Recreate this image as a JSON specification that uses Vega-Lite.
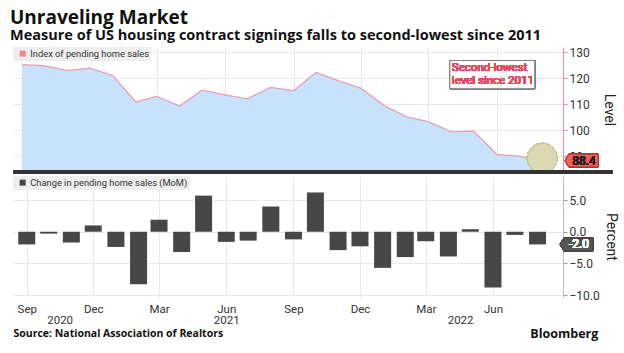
{
  "$schema": "https://vega.github.io/schema/vega-lite/v6.json",
  "padding": {"left": 10, "top": 8, "right": 4, "bottom": 2},
  "background": "white",
  "title": {
    "text": "Unraveling Market",
    "subtitle": "Measure of US housing contract signings falls to second-lowest since 2011",
    "anchor": "start",
    "frame": "group",
    "dx": -3,
    "font": "Open Sans",
    "fontSize": 19,
    "fontWeight": "bold",
    "color": "#111",
    "subtitleFont": "Open Sans",
    "subtitleFontSize": 14.5,
    "subtitleFontWeight": "bold",
    "subtitleColor": "#111",
    "subtitlePadding": 1,
    "offset": 4
  },
  "config": {
    "view": {"stroke": null},
    "font": "Roboto",
    "axis": {"labelFont": "Roboto", "titleFont": "Roboto", "gridColor": "#e9e9e9", "labelColor": "#333", "titleColor": "#222"},
    "legend": {"labelFont": "Roboto"}
  },
  "datasets": {
    "d": [
      {"date": "2020-09-01", "index": 125.2, "change": -2.0},
      {"date": "2020-10-01", "index": 124.8, "change": -0.3},
      {"date": "2020-11-01", "index": 122.9, "change": -1.7},
      {"date": "2020-12-01", "index": 123.9, "change": 1.0},
      {"date": "2021-01-01", "index": 121.0, "change": -2.4},
      {"date": "2021-02-01", "index": 110.9, "change": -8.3},
      {"date": "2021-03-01", "index": 113.0, "change": 1.9},
      {"date": "2021-04-01", "index": 109.3, "change": -3.2},
      {"date": "2021-05-01", "index": 115.4, "change": 5.7},
      {"date": "2021-06-01", "index": 113.6, "change": -1.6},
      {"date": "2021-07-01", "index": 112.1, "change": -1.4},
      {"date": "2021-08-01", "index": 116.5, "change": 4.0},
      {"date": "2021-09-01", "index": 115.2, "change": -1.2},
      {"date": "2021-10-01", "index": 122.2, "change": 6.2},
      {"date": "2021-11-01", "index": 119.0, "change": -2.9},
      {"date": "2021-12-01", "index": 116.1, "change": -2.3},
      {"date": "2022-01-01", "index": 109.4, "change": -5.7},
      {"date": "2022-02-01", "index": 105.1, "change": -4.0},
      {"date": "2022-03-01", "index": 103.3, "change": -1.5},
      {"date": "2022-04-01", "index": 99.4, "change": -3.9},
      {"date": "2022-05-01", "index": 99.7, "change": 0.4},
      {"date": "2022-06-01", "index": 90.7, "change": -8.8},
      {"date": "2022-07-01", "index": 90.1, "change": -0.5},
      {"date": "2022-08-01", "index": 88.4, "change": -2.0}
    ]
  },
  "resolve": {"scale": {"x": "independent", "color": "independent"}, "axis": {"x": "independent"}, "legend": {"color": "independent"}},
  "spacing": -2,
  "vconcat": [
    {
      "width": 550,
      "height": 125,
      "data": {"name": "d"},
      "encoding": {
        "x": {
          "field": "date", "type": "temporal",
          "scale": {"type": "utc", "domain": [{"year": 2020, "month": 8, "date": 20, "utc": true}, {"year": 2022, "month": 8, "date": 29, "utc": true}]},
          "axis": {
            "values": [
              {"year": 2020, "month": 9, "date": 1, "utc": true},
              {"year": 2020, "month": 12, "date": 1, "utc": true},
              {"year": 2021, "month": 3, "date": 1, "utc": true},
              {"year": 2021, "month": 6, "date": 1, "utc": true},
              {"year": 2021, "month": 9, "date": 1, "utc": true},
              {"year": 2021, "month": 12, "date": 1, "utc": true},
              {"year": 2022, "month": 3, "date": 1, "utc": true},
              {"year": 2022, "month": 6, "date": 1, "utc": true}
            ],
            "grid": true, "labels": false, "ticks": false, "domain": false, "title": null,
            "minExtent": 0, "maxExtent": 0, "offset": 0
          }
        },
        "y": {
          "field": "index", "type": "quantitative",
          "scale": {"domain": [84, 132], "zero": false, "nice": false},
          "axis": {
            "orient": "right", "values": [90, 100, 110, 120, 130], "grid": true,
            "domainColor": "#f08a9a", "tickColor": "#f08a9a", "tickSize": 4,
            "labelFontSize": 12, "labelPadding": 2,
            "title": "Level", "titleFontSize": 14, "titleFontWeight": "normal", "titlePadding": 12
          }
        }
      },
      "layer": [
        {"mark": {"type": "area", "color": "#c9e2fb", "clip": true}},
        {"mark": {"type": "line", "color": "#e6a2b4", "strokeWidth": 1.3}},
        {
          "mark": {"type": "square", "size": 0, "filled": true},
          "encoding": {
            "color": {
              "datum": "Index of pending home sales",
              "scale": {"range": ["#f25555"]},
              "legend": {
                "orient": "top-left", "offset": 0, "title": null, "fillColor": "#eeeeee",
                "padding": 2, "symbolType": "square", "symbolSize": 36, "labelFontSize": 9.3,
                "labelColor": "#333", "labelOffset": 3, "symbolOffset": 3, "labelLimit": 400
              }
            }
          }
        },
        {
          "mark": {"type": "circle", "size": 900, "color": "#dcd9b2", "opacity": 0.75, "stroke": "#c9c59c", "strokeWidth": 1},
          "encoding": {
            "x": {"datum": {"year": 2022, "month": 8, "date": 1, "utc": true}},
            "y": {"datum": 89.3}
          }
        },
        {
          "mark": {"type": "rect", "fill": "white", "stroke": "#808080", "strokeWidth": 1},
          "encoding": {
            "x": {"datum": {"year": 2022, "month": 3, "date": 30, "utc": true}},
            "x2": {"datum": {"year": 2022, "month": 7, "date": 22, "utc": true}},
            "y": {"datum": 126.8},
            "y2": {"datum": 116.0}
          }
        },
        {
          "mark": {"type": "text", "text": ["Second-lowest", "level since 2011"], "align": "left", "baseline": "top", "color": "#ec4560", "fontSize": 11.5, "fontWeight": "normal", "lineHeight": 13.5, "dx": 2, "dy": 1},
          "encoding": {
            "x": {"datum": {"year": 2022, "month": 3, "date": 30, "utc": true}},
            "y": {"datum": 126.8}
          }
        },
        {
          "mark": {"type": "point", "shape": "M-1,0L-0.76,-0.38L1,-0.38L1,0.38L-0.76,0.38Z", "size": 1100, "filled": true, "fill": "#f25e5e", "stroke": "#b93030", "strokeWidth": 0.8, "opacity": 1, "xOffset": 18.5},
          "encoding": {
            "x": {"datum": {"year": 2022, "month": 8, "date": 29, "utc": true}},
            "y": {"datum": 88.4}
          }
        },
        {
          "mark": {"type": "text", "text": "88.4", "align": "center", "baseline": "middle", "color": "#222", "fontSize": 12, "dx": 21},
          "encoding": {
            "x": {"datum": {"year": 2022, "month": 8, "date": 29, "utc": true}},
            "y": {"datum": 88.4}
          }
        },
        {
          "mark": {"type": "rule", "color": "#333", "strokeWidth": 3},
          "encoding": {
            "x": {"datum": {"year": 2020, "month": 8, "date": 20, "utc": true}},
            "x2": {"datum": {"year": 2022, "month": 11, "date": 3, "utc": true}},
            "y": {"datum": 84}
          }
        }
      ]
    },
    {
      "width": 550,
      "height": 121,
      "data": {"name": "d"},
      "title": {"text": "Bloomberg", "orient": "bottom", "anchor": "end", "frame": "bounds", "font": "Open Sans", "fontSize": 12.5, "fontWeight": "bold", "color": "#111", "offset": -11, "dx": -19},
      "resolve": {"axis": {"x": "independent"}},
      "encoding": {
        "x": {
          "field": "date", "type": "temporal",
          "scale": {"type": "utc", "domain": [{"year": 2020, "month": 8, "date": 20, "utc": true}, {"year": 2022, "month": 8, "date": 29, "utc": true}]},
          "axis": {
            "orient": "bottom",
            "values": [
              {"year": 2020, "month": 9, "date": 1, "utc": true},
              {"year": 2020, "month": 12, "date": 1, "utc": true},
              {"year": 2021, "month": 3, "date": 1, "utc": true},
              {"year": 2021, "month": 6, "date": 1, "utc": true},
              {"year": 2021, "month": 9, "date": 1, "utc": true},
              {"year": 2021, "month": 12, "date": 1, "utc": true},
              {"year": 2022, "month": 3, "date": 1, "utc": true},
              {"year": 2022, "month": 6, "date": 1, "utc": true}
            ],
            "format": "%b", "grid": true, "ticks": false, "domain": false, "title": null,
            "labelFontSize": 11.5, "labelPadding": 6
          }
        },
        "y": {
          "field": "change", "type": "quantitative",
          "scale": {"domain": [-10.3, 8.8], "nice": false, "zero": false},
          "axis": {
            "orient": "right", "values": [-10, -5, 0, 5], "format": ".1f", "grid": true,
            "domainColor": "#bbbbbb", "tickColor": "#999999", "tickSize": 4,
            "labelFontSize": 12, "labelPadding": 2,
            "title": "Percent", "titleFontSize": 14, "titleFontWeight": "normal", "titlePadding": 4
          }
        }
      },
      "layer": [
        {
          "mark": {"type": "bar", "size": 17},
          "encoding": {
            "color": {
              "datum": "Change in pending home sales (MoM)",
              "scale": {"range": ["#474747"]},
              "legend": {
                "orient": "top-left", "offset": 0, "title": null, "fillColor": "#eeeeee",
                "padding": 2, "symbolType": "square", "symbolSize": 36, "labelFontSize": 9.3,
                "labelColor": "#333", "labelOffset": 3, "symbolOffset": 3, "labelLimit": 400
              }
            }
          }
        },
        {
          "mark": {"type": "point", "opacity": 0},
          "encoding": {
            "x": {
              "field": "date", "type": "temporal",
              "axis": {
                "orient": "bottom",
                "values": [
                  {"year": 2020, "month": 10, "date": 16, "utc": true},
                  {"year": 2021, "month": 6, "date": 1, "utc": true},
                  {"year": 2022, "month": 4, "date": 17, "utc": true}
                ],
                "format": "%Y", "grid": false, "ticks": false, "domain": false,
                "labelFontSize": 11.5, "labelPadding": 17,
                "title": "Source: National Association of Realtors", "titleAnchor": "start",
                "titleFont": "Open Sans", "titleFontSize": 10.5, "titleFontWeight": "bold", "titleColor": "#111", "titlePadding": 3
              }
            }
          }
        },
        {
          "mark": {"type": "point", "shape": "M-1,0L-0.76,-0.38L1,-0.38L1,0.38L-0.76,0.38Z", "size": 1100, "filled": true, "fill": "#555555", "stroke": "#444", "strokeWidth": 0.8, "opacity": 1, "xOffset": 18.5},
          "encoding": {
            "x": {"datum": {"year": 2022, "month": 8, "date": 29, "utc": true}, "axis": null},
            "y": {"datum": -2.0}
          }
        },
        {
          "mark": {"type": "text", "text": "-2.0", "align": "center", "baseline": "middle", "color": "white", "fontSize": 12, "dx": 21},
          "encoding": {
            "x": {"datum": {"year": 2022, "month": 8, "date": 29, "utc": true}, "axis": null},
            "y": {"datum": -2.0}
          }
        }
      ]
    }
  ]
}
